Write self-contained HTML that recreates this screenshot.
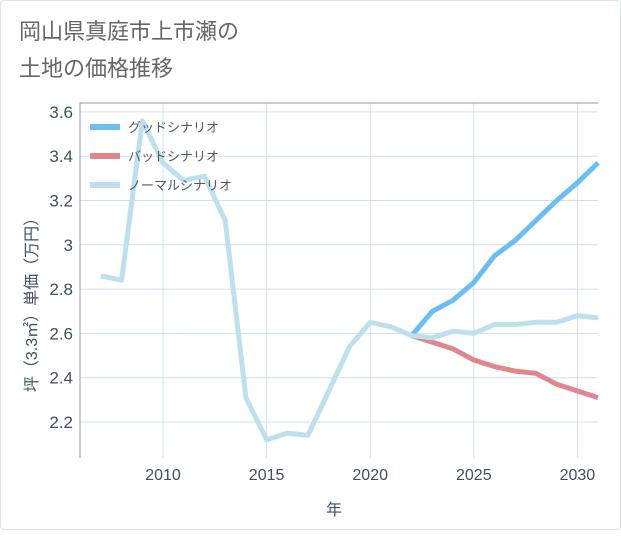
<!DOCTYPE html>
<html><head><meta charset="utf-8"><style>
body{margin:0;background:#fff;}
#card{position:absolute;left:0;top:0;width:619px;height:528px;border:1px solid #dde3ea;border-radius:4px;background:#fff;}
text{font-family:"Liberation Sans","Noto Sans CJK JP",sans-serif;}
</style></head><body>
<div id="card">
<svg id="chart" width="621" height="530">
<text x="18" y="38" font-size="22" fill="#666">岡山県真庭市上市瀬の</text>
<text x="18" y="75" font-size="22" fill="#666">土地の価格推移</text>
<g id="grid"></g><g id="axes"></g><g id="series"></g>
<text x="333" y="514" font-size="16" fill="#3f4f66" text-anchor="middle">年</text>
<text transform="translate(36,300) rotate(-90)" font-size="16" fill="#3f4f66" text-anchor="middle">坪（3.3㎡）単価（万円）</text>
<g id="legend"></g>
</svg></div>
<script>
const years=[2007,2008,2009,2010,2011,2012,2013,2014,2015,2016,2017,2018,2019,2020,2021,2022,2023,2024,2025,2026,2027,2028,2029,2030,2031];
const normalVals=[2.86,2.84,3.56,3.37,3.29,3.31,3.11,2.31,2.12,2.15,2.14,2.34,2.54,2.65,2.63,2.59,2.58,2.61,2.60,2.64,2.64,2.65,2.65,2.68,2.67];
const goodYears=[2022,2023,2024,2025,2026,2027,2028,2029,2030,2031];
const goodVals=[2.59,2.70,2.75,2.83,2.95,3.02,3.11,3.20,3.28,3.37];
const badVals=[2.59,2.56,2.53,2.48,2.45,2.43,2.42,2.37,2.34,2.31];
const xTicks=[2010,2015,2020,2025,2030];
const yTicks=[2.2,2.4,2.6,2.8,3,3.2,3.4,3.6];
const yTickLabels=["2.2","2.4","2.6","2.8","3","3.2","3.4","3.6"];
const L=79,R=597,T=102,B=457;
const X=v=>162+(v-2010)*20.72;
const Y=v=>421-(v-2.2)*221.5;
const NS="http://www.w3.org/2000/svg";
function mk(tag,at,parent){const e=document.createElementNS(NS,tag);for(const k in at)e.setAttribute(k,at[k]);document.getElementById(parent).appendChild(e);return e;}
const bg=mk('rect',{x:L,y:T,width:R-L,height:B-T,fill:'#fff'},'grid');


xTicks.forEach(t=>{const l=mk('line',{x1:X(t),x2:X(t),y1:T,y2:B,stroke:'#cfe0ec','stroke-width':1},'grid');


const tx=mk('text',{x:X(t),y:479,'font-size':16,fill:'#3f4f66','text-anchor':'middle'},'axes');tx.textContent=t;

});
yTicks.forEach((t,i)=>{const l=mk('line',{x1:L,x2:R,y1:Y(t),y2:Y(t),stroke:'#cfe0ec','stroke-width':1},'grid');


const tx=mk('text',{x:72,y:Y(t)+6,'font-size':17,fill:'#3f4f66','text-anchor':'end'},'axes');tx.textContent=yTickLabels[i];

});
const fr=mk('path',{d:`M${L},${B}V${T}H${R}`,stroke:'#999',fill:'none','stroke-width':1},'axes');


function line(xs,vs,color,name){const d=xs.map((x,i)=>(i?'L':'M')+X(x).toFixed(1)+','+Y(vs[i]).toFixed(1)).join('');
const p=mk('path',{d,stroke:color,'stroke-width':5,fill:'none','stroke-linejoin':'round'},'series');

}
line(goodYears,goodVals,'#6bbdf2','good-scenario-line');
line(goodYears,badVals,'#e0868d','bad-scenario-line');
line(years,normalVals,'#bde0ec','normal-scenario-line');
const leg=[['グッドシナリオ','#6bbdf2'],['バッドシナリオ','#e0868d'],['ノーマルシナリオ','#bde0ec']];
leg.forEach((e,i)=>{const y=126+i*29;
const g=mk('g',{},'legend');

const r=document.createElementNS(NS,'rect');r.setAttribute('x',89);r.setAttribute('y',y-3);r.setAttribute('width',30);r.setAttribute('height',6);r.setAttribute('fill',e[1]);g.appendChild(r);
const t=document.createElementNS(NS,'text');t.setAttribute('x',127);t.setAttribute('y',y+5);t.setAttribute('font-size',13);t.setAttribute('fill','#556');t.textContent=e[0];g.appendChild(t);});
</script>
</body></html>
